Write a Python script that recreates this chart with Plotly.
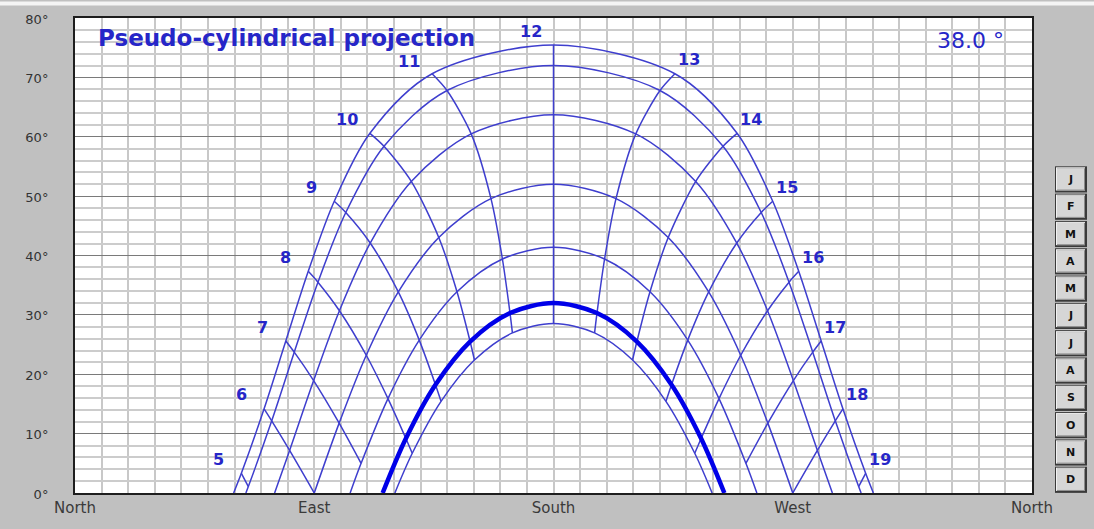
import plotly.graph_objects as go

# ---------------------------------------------------------------------------
# Sun-path chart, latitude 38.0 deg (azimuth from North, altitude in degrees)
# ---------------------------------------------------------------------------
HOURS = [5, 6, 7, 8, 9, 10, 11, 12, 13, 14, 15, 16, 17, 18, 19]

# 21 June
JUN_AZ = [62.58, 71.13, 79.30, 87.75, 97.53, 110.94, 134.33, 180.0,
          225.67, 249.06, 262.47, 272.25, 280.70, 288.87, 297.42]
JUN_ALT = [3.32, 14.18, 25.60, 37.33, 49.13, 60.58, 70.61, 75.45,
           70.61, 60.58, 49.13, 37.33, 25.60, 14.18, 3.32]

# 21 May / 21 July
MAY_AZ = [65.21, 74.00, 82.48, 91.39, 101.86, 116.23, 139.95, 180.0,
          220.05, 243.77, 258.14, 268.61, 277.52, 286.00, 294.79]
MAY_ALT = [1.08, 12.16, 23.72, 35.51, 47.24, 58.41, 67.79, 72.00,
           67.79, 58.41, 47.24, 35.51, 23.72, 12.16, 1.08]

# 21 April / 21 August
APR_AZ = [None, 80.73, 89.77, 99.48, 111.05, 126.50, 149.04, 180.0,
          210.96, 233.50, 248.95, 260.52, 270.23, 279.27, None]
APR_ALT = [None, 7.17, 18.94, 30.70, 42.10, 52.48, 60.48, 63.70,
           60.48, 52.48, 42.10, 30.70, 18.94, 7.17, None]

# 21 March / 21 September
MAR_AZ = [None, 90.0, 99.37, 109.57, 121.62, 136.84, 156.48, 180.0,
          203.52, 223.16, 238.38, 250.43, 260.63, 270.0, None]
MAR_ALT = [None, 0.0, 11.77, 23.20, 33.86, 43.03, 49.57, 52.00,
           49.57, 43.03, 33.86, 23.20, 11.77, 0.0, None]

# 21 February / 21 October
FEB_AZ = [None, None, 107.62, 117.73, 129.50, 143.70, 160.78, 180.0,
          199.22, 216.30, 230.50, 242.27, 252.38, None, None]
FEB_ALT = [None, None, 5.00, 15.90, 25.75, 33.89, 39.41, 41.40,
           39.41, 33.89, 25.75, 15.90, 5.00, None, None]

# 21 January / 21 November (highlighted)
JAN_AZ = [None, None, None, 124.47, 135.60, 148.63, 163.64, 180.0,
          196.36, 211.37, 224.40, 235.53, None, None, None]
JAN_ALT = [None, None, None, 9.19, 18.24, 25.51, 30.31, 32.00,
           30.31, 25.51, 18.24, 9.19, None, None, None]

# 21 December
DEC_AZ = [None, None, None, 126.87, 137.70, 150.26, 164.55, 180.0,
          195.45, 209.74, 222.30, 233.13, None, None, None]
DEC_ALT = [None, None, None, 6.69, 15.44, 22.40, 26.96, 28.55,
           26.96, 22.40, 15.44, 6.69, None, None, None]

# sunrise / sunset azimuths for each path (altitude 0)
RISE_AZ = [59.67, 64.28, 75.09, 90.0, 103.50, 115.72, 120.33]
SET_AZ = [300.33, 295.72, 284.91, 270.0, 256.50, 244.28, 239.67]

PATH_AZ = [JUN_AZ, MAY_AZ, APR_AZ, MAR_AZ, FEB_AZ, JAN_AZ, DEC_AZ]
PATH_ALT = [JUN_ALT, MAY_ALT, APR_ALT, MAR_ALT, FEB_ALT, JAN_ALT, DEC_ALT]
HIGHLIGHT = 5  # Jan / Nov path drawn heavy

MONTHS = ["J", "F", "M", "A", "M", "J", "J", "A", "S", "O", "N", "D"]
X_TICKS = [0, 90, 180, 270, 360]
X_NAMES = ["North", "East", "South", "West", "North"]

TITLE = "Pseudo-cylindrical projection"
LATITUDE_TEXT = "38.0 °"

# ---------------------------------------------------------------------------
W, H = 1094, 529
L, R, T, B = 75, 1032, 17, 507          # plot area edges in pixels
FONT = "DejaVu Sans"
THIN = "rgb(62,62,206)"
THICK = "rgb(0,0,232)"
LABEL_BLUE = "rgb(38,38,200)"


def px(x):
    return (x - L) / (R - L)


def py(y):
    return (B - y) / (B - T)


fig = go.Figure()

# hour lines (same hour across the seasonal paths)
for j, h in enumerate(HOURS):
    xs, ys = [], []
    for az, alt in zip(PATH_AZ, PATH_ALT):
        if az[j] is not None:
            xs.append(az[j])
            ys.append(alt[j])
    if len(xs) >= 2:
        fig.add_trace(go.Scatter(
            x=xs, y=ys, mode="lines",
            line=dict(color=THIN, width=1.5, shape="spline", smoothing=0.8),
            hoverinfo="skip", showlegend=False))

# daily sun paths
for i, (az, alt) in enumerate(zip(PATH_AZ, PATH_ALT)):
    xs, ys = [RISE_AZ[i]], [0.0]
    for a, e in zip(az, alt):
        if a is not None and (a, e) != (xs[-1], ys[-1]):
            xs.append(a)
            ys.append(e)
    if (SET_AZ[i], 0.0) != (xs[-1], ys[-1]):
        xs.append(SET_AZ[i])
        ys.append(0.0)
    heavy = i == HIGHLIGHT
    fig.add_trace(go.Scatter(
        x=xs, y=ys, mode="lines",
        line=dict(color=THICK if heavy else THIN, width=4.5 if heavy else 1.5,
                  shape="spline", smoothing=0.9),
        hoverinfo="skip", showlegend=False))

annotations = []

# hour numbers beside the June path
for j, h in enumerate(HOURS):
    annotations.append(dict(
        x=JUN_AZ[j], y=JUN_ALT[j], xref="x", yref="y", text=str(h),
        showarrow=False, xanchor="center", yanchor="middle",
        xshift=-23 if h <= 12 else 14, yshift=12 if h == 11 else 14,
        font=dict(family=FONT, size=16, color=LABEL_BLUE, weight="bold")))

annotations.append(dict(
    x=px(96), y=py(38), xref="paper", yref="paper", text=TITLE,
    showarrow=False, xanchor="left", yanchor="middle",
    font=dict(family=FONT, size=23, color=LABEL_BLUE, weight="bold")))
annotations.append(dict(
    x=px(1006), y=py(40), xref="paper", yref="paper", text=LATITUDE_TEXT,
    showarrow=False, xanchor="right", yanchor="middle",
    font=dict(family=FONT, size=22, color=LABEL_BLUE)))

shapes = []
# thin light strip along the top edge
shapes.append(dict(type="rect", xref="paper", yref="paper",
                   x0=px(0), x1=px(W), y0=py(0), y1=py(4),
                   fillcolor="#f4f4f4", line=dict(width=0), layer="below"))

# darker compass lines at East / South / West
for v in X_TICKS[1:-1]:
    shapes.append(dict(type="line", xref="x", yref="paper", x0=v, x1=v,
                       y0=0, y1=1, line=dict(color="#7a7a7a", width=1),
                       layer="below"))

# month selector buttons
bx0, bx1 = 1055, 1087
for k, m in enumerate(MONTHS):
    top = 170 + k * 28.17
    bot = top + 27
    shapes.append(dict(type="rect", xref="paper", yref="paper",
                       x0=px(bx0), x1=px(bx1), y0=py(bot), y1=py(top),
                       fillcolor="#3a3a3a", line=dict(width=0)))
    shapes.append(dict(type="rect", xref="paper", yref="paper",
                       x0=px(bx0 + 1), x1=px(bx1 - 2), y0=py(bot - 2), y1=py(top + 1),
                       fillcolor="#f2f2f2", line=dict(width=0)))
    shapes.append(dict(type="rect", xref="paper", yref="paper",
                       x0=px(bx0 + 2), x1=px(bx1 - 2), y0=py(bot - 2), y1=py(top + 2),
                       fillcolor="#8a8a8a", line=dict(width=0)))
    shapes.append(dict(type="rect", xref="paper", yref="paper",
                       x0=px(bx0 + 2), x1=px(bx1 - 3), y0=py(bot - 3), y1=py(top + 2),
                       fillcolor="#d6d6d6", line=dict(width=0)))
    annotations.append(dict(
        x=px((bx0 + bx1) / 2 - 0.5), y=py((top + bot) / 2), xref="paper", yref="paper",
        text=m, showarrow=False, xanchor="center", yanchor="middle",
        font=dict(family=FONT, size=11, color="#111111", weight="bold")))

fig.update_layout(
    width=W, height=H, autosize=False,
    margin=dict(l=L, r=W - R, t=T, b=H - B, pad=0),
    paper_bgcolor="#c0c0c0", plot_bgcolor="#ffffff",
    showlegend=False, hovermode=False,
    annotations=annotations, shapes=shapes,
)

fig.update_xaxes(
    range=[0, 360], tickmode="array", tickvals=X_TICKS, ticktext=X_NAMES,
    showgrid=False, zeroline=False,
    minor=dict(tickmode="linear", tick0=0, dtick=10, showgrid=True,
               gridcolor="#c8c8c8", gridwidth=1.5),
    showline=True, mirror=True, linecolor="#1e1e1e", linewidth=2,
    tickfont=dict(family=FONT, size=15, color="#3a3a3a"),
    ticks="", fixedrange=True,
)
fig.update_yaxes(
    range=[0, 80], tickmode="linear", tick0=0, dtick=10, ticksuffix="°",
    showgrid=True, gridcolor="#7a7a7a", gridwidth=1, zeroline=False,
    minor=dict(tickmode="linear", tick0=0, dtick=2, showgrid=True,
               gridcolor="#cccccc", gridwidth=1.5),
    showline=True, mirror=True, linecolor="#1e1e1e", linewidth=2,
    tickfont=dict(family=FONT, size=13, color="#333333"),
    ticks="", ticklabelstandoff=22, ticklabelshift=1, fixedrange=True,
)

fig.write_html("out.html")
